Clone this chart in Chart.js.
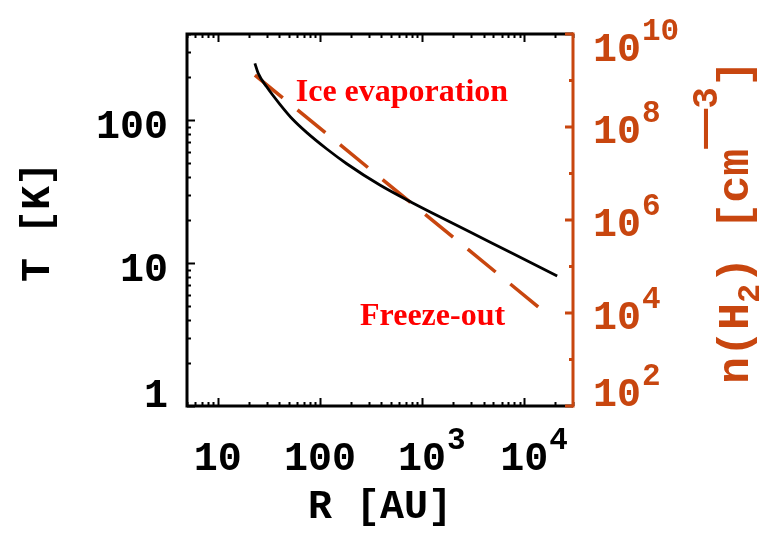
<!DOCTYPE html>
<html>
<head>
<meta charset="utf-8">
<script src="https://cdn.jsdelivr.net/npm/chart.js@4/dist/chart.umd.min.js"></script>
<style>
  body { margin: 0; background: #fff; }
  #wrap { width: 767px; height: 535px; }
</style>
</head>
<body>
<div id="wrap"><canvas id="chart" width="767" height="535"></canvas></div>
<script>
// Dust temperature profile T(R)
const radiusT = [23.1, 24.9, 30.1, 40.6, 55, 74, 116, 183, 386, 819, 1740, 3680, 7800, 21000];
const temperature = [249, 212, 171, 129, 100, 82, 63, 49.5, 35.1, 26.2, 19.9, 15.2, 11.6, 8.13];

// H2 density profile n(R), a single power law
const radiusN = [23.1, 16800];
const density = [1.31e9, 9.4e3];

// Axis ticks and their labels ('^' marks an exponent)
const radiusTicks = [10, 100, 1000, 10000];
const radiusTickLabels = ['10', '100', '10^3', '10^4'];
const tempTicks = [1, 10, 100];
const tempTickLabels = ['1', '10', '100'];
const densityTicks = [1e2, 1e4, 1e6, 1e8, 1e10];
const densityTickLabels = ['10^2', '10^4', '10^6', '10^8', '10^10'];

const ORANGE = '#c8460f';
const RED = '#ff0000';
const MONO = '"Liberation Mono", "DejaVu Sans Mono", monospace';
const SANS = '"Liberation Sans", "DejaVu Sans", sans-serif';
const SERIF = '"Liberation Serif", "DejaVu Serif", serif';

// all values k*10^e (k = 1..9) inside [min, max]
function logSteps(min, max) {
  const out = [];
  for (let e = Math.floor(Math.log10(min)); e <= Math.ceil(Math.log10(max)); e++) {
    for (let k = 1; k <= 9; k++) {
      const v = k * Math.pow(10, e);
      if (v >= min * 0.999 && v <= max * 1.001) out.push({ v, major: k === 1 });
    }
  }
  return out;
}

// draws "base^exp" with a raised exponent; align refers to the base part
function drawPow(ctx, label, x, y, align) {
  const [base, exp] = label.split('^');
  ctx.font = `bold 40px ${MONO}`;
  const wb = ctx.measureText(base).width;
  let x0 = x;
  if (align === 'center') x0 = x - wb / 2;
  else if (align === 'right') x0 = x - wb;
  ctx.textAlign = 'left';
  ctx.fillText(base, x0, y);
  if (exp) {
    ctx.font = `bold 31px ${MONO}`;
    ctx.fillText(exp, x0 + wb + 1, y - 21);
  }
}

const idlAxes = {
  id: 'idlAxes',
  afterDatasetsDraw(chart) {
    const ctx = chart.ctx;
    const { left, right, top, bottom } = chart.chartArea;
    const sx = chart.scales.x, sy = chart.scales.y, sn = chart.scales.y2;
    ctx.save();
    ctx.lineCap = 'butt';

    // black frame: left, top, bottom
    ctx.strokeStyle = '#000';
    ctx.lineWidth = 3;
    ctx.beginPath();
    ctx.moveTo(right, top); ctx.lineTo(left, top);
    ctx.lineTo(left, bottom); ctx.lineTo(right, bottom);
    ctx.stroke();

    // inward ticks on x (bottom and top) and left y
    ctx.lineWidth = 2;
    ctx.beginPath();
    logSteps(sx.min, sx.max).forEach(t => {
      const px = Math.round(sx.getPixelForValue(t.v)) + 0.5;
      const len = t.major ? 8 : 4;
      ctx.moveTo(px, bottom); ctx.lineTo(px, bottom - len);
      ctx.moveTo(px, top); ctx.lineTo(px, top + len);
    });
    logSteps(sy.min, sy.max).forEach(t => {
      const py = Math.round(sy.getPixelForValue(t.v)) + 0.5;
      const len = t.major ? 8 : 4;
      ctx.moveTo(left, py); ctx.lineTo(left + len, py);
    });
    ctx.stroke();

    // orange right axis for the density
    ctx.strokeStyle = ORANGE;
    ctx.lineWidth = 3;
    ctx.beginPath();
    ctx.moveTo(right, top - 1.5); ctx.lineTo(right, bottom + 1.5);
    ctx.stroke();
    ctx.beginPath();
    for (let e = 2; e <= 10; e++) {
      const py = sn.getPixelForValue(Math.pow(10, e));
      const len = e % 2 === 0 ? 8 : 4;
      ctx.moveTo(right, py); ctx.lineTo(right - len, py);
    }
    ctx.stroke();

    // tick labels
    ctx.textBaseline = 'alphabetic';
    ctx.fillStyle = '#000';
    radiusTicks.forEach((v, i) => {
      drawPow(ctx, radiusTickLabels[i], sx.getPixelForValue(v), bottom + 64, 'center');
    });
    tempTicks.forEach((v, i) => {
      const cy = Math.min(Math.max(sy.getPixelForValue(v) + 4, top + 14), bottom - 13);
      drawPow(ctx, tempTickLabels[i], left - 19, cy + 14, 'right');
    });
    ctx.fillStyle = ORANGE;
    densityTicks.forEach((v, i) => {
      const cy = Math.min(Math.max(sn.getPixelForValue(v) + 3, top + 14), bottom - 13);
      drawPow(ctx, densityTickLabels[i], right + 20, cy + 13, 'left');
    });

    // axis titles
    ctx.fillStyle = '#000';
    ctx.font = `bold 40px ${MONO}`;
    ctx.textAlign = 'center';
    ctx.fillText('R [AU]', (left + right) / 2, bottom + 112);

    ctx.save();
    ctx.translate(49, (top + bottom) / 2 + 2);
    ctx.rotate(-Math.PI / 2);
    ctx.fillText('T [K]', 0, 0);
    ctx.restore();

    // n(H2) [cm^-3], built piece by piece
    const pieces = [
      { t: 'n(H', font: `bold 45px ${MONO}`, dy: 0 },
      { t: '2', font: `bold 32px ${MONO}`, dy: 11 },
      { t: ') [cm', font: `bold 45px ${MONO}`, dy: 0 },
      { t: '\u2014', font: `bold 40px ${SANS}`, dy: -31 },
      { t: '3', font: `bold 36px ${MONO}`, dy: -31 },
      { t: ']', font: `bold 45px ${MONO}`, dy: 0 }
    ];
    let total = 0;
    pieces.forEach(p => {
      ctx.font = p.font;
      p.w = ctx.measureText(p.t).width;
      total += p.w;
    });
    ctx.save();
    ctx.translate(748, (top + bottom) / 2 + 2);
    ctx.rotate(-Math.PI / 2);
    ctx.fillStyle = ORANGE;
    ctx.textAlign = 'left';
    let cx = -total / 2;
    pieces.forEach(p => {
      ctx.font = p.font;
      ctx.fillText(p.t, cx, p.dy);
      cx += p.w;
    });
    ctx.restore();

    // region labels, anchored in data space
    ctx.fillStyle = RED;
    ctx.font = `bold 32px ${SERIF}`;
    ctx.textAlign = 'left';
    ctx.fillText('Ice evaporation', sx.getPixelForValue(58), sy.getPixelForValue(136));
    ctx.fillText('Freeze-out', sx.getPixelForValue(247), sy.getPixelForValue(3.7));

    ctx.restore();
  }
};

new Chart(document.getElementById('chart'), {
  type: 'line',
  data: {
    datasets: [
      {
        label: 'T',
        data: radiusT.map((r, i) => ({ x: r, y: temperature[i] })),
        yAxisID: 'y',
        borderColor: '#000',
        borderWidth: 2.8,
        pointRadius: 0,
        cubicInterpolationMode: 'monotone',
        fill: false
      },
      {
        label: 'n(H2)',
        data: radiusN.map((r, i) => ({ x: r, y: density[i] })),
        yAxisID: 'y2',
        borderColor: ORANGE,
        borderWidth: 3.5,
        borderDash: [36, 19],
        borderCapStyle: 'butt',
        pointRadius: 0,
        fill: false
      }
    ]
  },
  options: {
    responsive: false,
    animation: false,
    events: [],
    layout: { padding: { left: 187, right: 194, top: 34, bottom: 129 } },
    plugins: {
      legend: { display: false },
      tooltip: { enabled: false }
    },
    scales: {
      x: { type: 'logarithmic', min: 5, max: 30000, display: false },
      y: { type: 'logarithmic', min: 1, max: 400, display: false },
      y2: { type: 'logarithmic', min: 1e2, max: 1e10, display: false, position: 'right' }
    }
  },
  plugins: [idlAxes]
});
</script>
</body>
</html>
